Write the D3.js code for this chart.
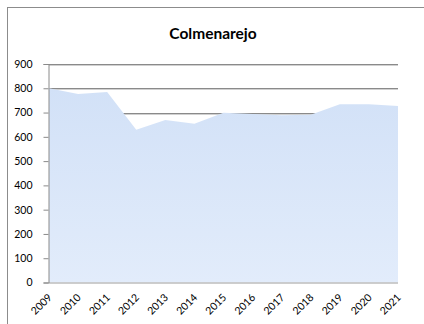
<!DOCTYPE html>
<html>
<head>
<meta charset="utf-8">
<script src="https://cdn.jsdelivr.net/npm/d3@7"></script>
<style>
  html, body { margin: 0; padding: 0; background: #fff; }
  svg { display: block; }
</style>
</head>
<body>
<svg id="chart" width="424" height="324"></svg>
<script>
// Annual values for Colmenarejo
const years = ["2009","2010","2011","2012","2013","2014","2015","2016","2017","2018","2019","2020","2021"];
const values = [800, 776, 785, 629, 669, 654, 699, 694, 689, 691, 734, 734, 727];
const yTicks = [0, 100, 200, 300, 400, 500, 600, 700, 800, 900];
const title = "Colmenarejo";

const svg = d3.select("#chart");
const font = "Lato, 'Open Sans', sans-serif";

const margin = { left: 49, right: 26, top: 64, bottom: 41.5 };
const W = 424, H = 324;

// outer chart frame (extends past the visible window on the right and bottom)
svg.append("rect")
  .attr("x", 7.5).attr("y", 7.5)
  .attr("width", 440).attr("height", 340)
  .attr("fill", "#fff")
  .attr("stroke", "#8c8c8c")
  .attr("stroke-width", 1);

const x = d3.scalePoint().domain(years).range([margin.left, W - margin.right]);
const y = d3.scaleLinear().domain([0, 900]).range([H - margin.bottom, margin.top]);

// soft vertical gradient for the area fill
const defs = svg.append("defs");
const grad = defs.append("linearGradient")
  .attr("id", "areaFill").attr("x1", 0).attr("y1", 0).attr("x2", 0).attr("y2", 1);
grad.append("stop").attr("offset", "0%").attr("stop-color", "#d2e1f7");
grad.append("stop").attr("offset", "100%").attr("stop-color", "#e2ecfb");

// horizontal gridlines
svg.append("g")
  .selectAll("line")
  .data(yTicks.filter(d => d > 0))
  .join("line")
  .attr("x1", margin.left).attr("x2", W - margin.right)
  .attr("y1", d => Math.round(y(d)) + 0.5).attr("y2", d => Math.round(y(d)) + 0.5)
  .attr("stroke", "#8a8a8a")
  .attr("stroke-width", 1);
svg.append("g")
  .selectAll("line")
  .data(yTicks.filter(d => d > 0))
  .join("line")
  .attr("x1", margin.left).attr("x2", W - margin.right)
  .attr("y1", d => Math.round(y(d)) + 1.5).attr("y2", d => Math.round(y(d)) + 1.5)
  .attr("stroke", "#d0d0d0")
  .attr("stroke-width", 1);

// area
const area = d3.area()
  .x((d, i) => x(years[i]))
  .y0(y(0))
  .y1(d => y(d));
svg.append("path")
  .datum(values)
  .attr("d", area)
  .attr("fill", "url(#areaFill)");

// x axis baseline
svg.append("line")
  .attr("x1", margin.left).attr("x2", W - margin.right)
  .attr("y1", y(0) + 0.5).attr("y2", y(0) + 0.5)
  .attr("stroke", "#bdbdbd").attr("stroke-width", 1.5);

// y axis
const yAxis = d3.axisLeft(y).tickValues(yTicks).tickSize(5).tickPadding(11);
const gy = svg.append("g")
  .attr("transform", `translate(${margin.left - 0.5},0)`)
  .call(yAxis);
gy.select(".domain").attr("stroke", "#8a8a8a");
gy.selectAll(".tick line").attr("stroke", "#8a8a8a");
gy.selectAll(".tick text")
  .attr("fill", "#000")
  .style("font-family", font)
  .style("font-size", "10.5px");

// x axis labels, rotated
const gx = svg.append("g")
  .attr("transform", `translate(0,${y(0)})`);
gx.selectAll("text")
  .data(years)
  .join("text")
  .attr("transform", d => `translate(${x(d) + 1},${13}) rotate(-45)`)
  .attr("text-anchor", "end")
  .attr("dy", "0.35em")
  .attr("fill", "#000")
  .style("font-family", font)
  .style("font-size", "10.5px")
  .text(d => d);

// title
svg.append("text")
  .attr("x", 213).attr("y", 39)
  .attr("text-anchor", "middle")
  .attr("fill", "#000")
  .style("font-family", font)
  .style("font-weight", "bold")
  .style("font-size", "15.5px")
  .text(title);
</script>
</body>
</html>
